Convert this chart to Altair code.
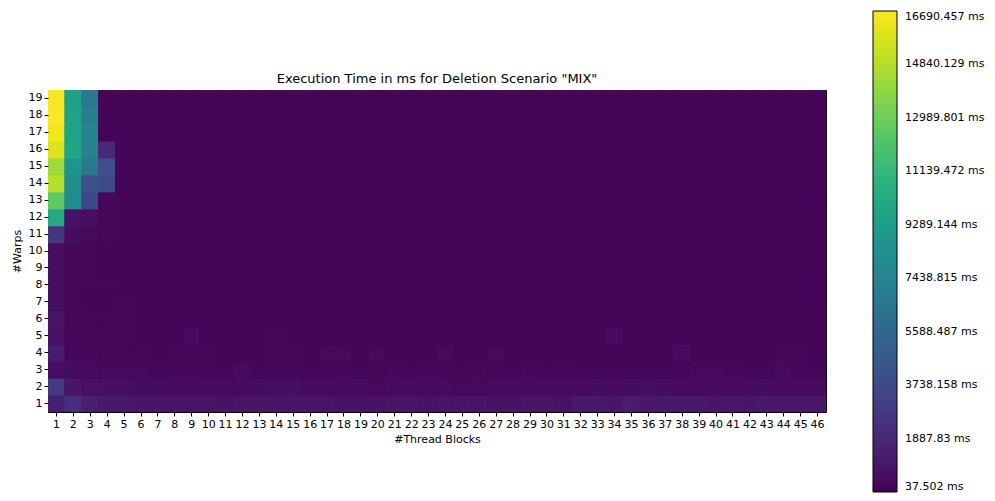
import altair as alt
import pandas as pd

thread_blocks = list(range(1, 47))
warps = list(range(1, 20))

# Execution time (ms) per warp count, one list per row, columns = thread blocks 1..46
w19 = [16550, 9500, 6600, 250, 200, 200, 200, 200, 200, 200, 200, 200, 200, 200, 200, 200, 200, 200, 200, 200, 200, 200, 200, 200, 200, 200, 200, 200, 200, 200, 200, 200, 200, 200, 200, 200, 200, 200, 200, 200, 200, 200, 200, 200, 200, 200]
w18 = [16690, 9600, 7000, 250, 200, 200, 200, 200, 200, 200, 200, 200, 200, 200, 200, 200, 200, 200, 200, 200, 200, 200, 200, 200, 200, 200, 200, 200, 200, 200, 200, 200, 200, 200, 200, 200, 200, 200, 200, 200, 200, 200, 200, 200, 200, 200]
w17 = [16300, 9700, 7600, 250, 200, 200, 200, 200, 200, 200, 200, 200, 200, 200, 200, 200, 200, 200, 200, 200, 200, 200, 200, 200, 200, 200, 200, 200, 200, 200, 200, 200, 200, 200, 200, 200, 200, 200, 200, 200, 200, 200, 200, 200, 200, 200]
w16 = [15800, 9900, 7400, 1900, 200, 200, 200, 200, 200, 200, 200, 200, 200, 200, 200, 200, 200, 200, 200, 200, 200, 200, 200, 200, 200, 200, 200, 200, 200, 200, 200, 200, 200, 200, 200, 200, 200, 200, 200, 200, 200, 200, 200, 200, 200, 200]
w15 = [14300, 8700, 6700, 3900, 200, 200, 200, 200, 200, 200, 200, 200, 200, 200, 200, 200, 200, 200, 200, 200, 200, 200, 200, 200, 200, 200, 200, 200, 200, 200, 200, 200, 200, 200, 200, 200, 200, 200, 200, 200, 200, 200, 200, 200, 200, 200]
w14 = [14900, 8100, 4100, 3700, 200, 200, 200, 200, 200, 200, 200, 200, 200, 200, 200, 200, 200, 200, 200, 200, 200, 200, 200, 200, 200, 200, 200, 200, 200, 200, 200, 200, 200, 200, 200, 200, 200, 200, 200, 200, 200, 200, 200, 200, 200, 200]
w13 = [12600, 8000, 3600, 300, 200, 200, 200, 200, 200, 200, 200, 200, 200, 200, 200, 200, 200, 200, 200, 200, 200, 200, 200, 200, 200, 200, 200, 200, 200, 200, 200, 200, 200, 200, 200, 200, 200, 200, 200, 200, 200, 200, 200, 200, 200, 200]
w12 = [10100, 800, 600, 300, 200, 200, 200, 200, 200, 200, 200, 200, 200, 200, 200, 200, 200, 200, 200, 200, 200, 200, 200, 200, 200, 200, 200, 200, 200, 200, 200, 200, 200, 200, 200, 200, 200, 200, 200, 200, 200, 200, 200, 200, 200, 200]
w11 = [2600, 500, 400, 300, 200, 200, 200, 200, 200, 200, 200, 200, 200, 200, 200, 200, 200, 200, 200, 200, 200, 200, 200, 200, 200, 200, 200, 200, 200, 200, 200, 200, 200, 200, 200, 200, 200, 200, 200, 200, 200, 200, 200, 200, 200, 200]
w10 = [600, 350, 300, 250, 200, 200, 200, 200, 200, 200, 200, 200, 200, 200, 200, 200, 200, 200, 200, 200, 200, 200, 200, 200, 200, 200, 200, 200, 200, 200, 200, 200, 200, 200, 200, 200, 200, 200, 200, 200, 200, 200, 200, 200, 200, 200]
w9 = [650, 350, 300, 250, 200, 200, 200, 200, 200, 200, 200, 200, 200, 200, 200, 200, 200, 200, 200, 200, 200, 200, 200, 200, 200, 200, 200, 200, 200, 200, 200, 200, 200, 200, 200, 200, 200, 200, 200, 200, 200, 200, 200, 200, 200, 200]
w8 = [600, 350, 300, 300, 250, 200, 200, 200, 200, 200, 200, 200, 200, 200, 200, 200, 200, 200, 200, 200, 200, 200, 200, 200, 200, 200, 200, 200, 200, 200, 200, 200, 200, 200, 200, 200, 200, 200, 200, 200, 200, 200, 200, 200, 200, 200]
w7 = [650, 350, 250, 250, 350, 200, 200, 200, 200, 200, 200, 200, 200, 200, 200, 200, 200, 200, 200, 200, 200, 200, 200, 200, 200, 200, 200, 200, 200, 200, 200, 200, 200, 200, 200, 200, 200, 200, 200, 200, 200, 200, 200, 200, 200, 200]
w6 = [900, 350, 300, 300, 300, 200, 200, 200, 200, 200, 200, 200, 200, 200, 200, 200, 200, 200, 200, 200, 200, 200, 200, 200, 200, 200, 200, 200, 200, 200, 200, 200, 200, 200, 200, 200, 200, 200, 200, 200, 200, 200, 200, 200, 200, 200]
w5 = [750, 300, 300, 300, 300, 250, 250, 250, 450, 250, 250, 250, 250, 300, 250, 250, 250, 250, 250, 250, 250, 250, 250, 250, 250, 250, 250, 250, 250, 250, 250, 250, 250, 450, 250, 250, 250, 250, 250, 250, 250, 250, 250, 250, 250, 250]
w4 = [1200, 350, 350, 300, 300, 300, 250, 300, 300, 300, 250, 250, 250, 350, 300, 250, 400, 400, 250, 400, 250, 250, 250, 400, 250, 250, 400, 250, 250, 250, 250, 250, 250, 250, 250, 250, 250, 450, 250, 250, 250, 250, 250, 350, 350, 250]
w3 = [600, 500, 450, 400, 400, 400, 350, 350, 350, 300, 300, 450, 300, 300, 350, 300, 300, 350, 300, 300, 350, 300, 350, 300, 300, 350, 300, 300, 350, 300, 300, 300, 300, 300, 300, 300, 300, 300, 400, 400, 350, 300, 300, 400, 300, 300]
w2 = [2800, 900, 700, 600, 600, 500, 500, 450, 450, 450, 450, 450, 500, 550, 650, 450, 450, 450, 500, 400, 450, 450, 450, 450, 400, 400, 450, 450, 450, 450, 450, 450, 500, 450, 500, 600, 500, 450, 450, 450, 450, 450, 500, 450, 450, 450]
w1 = [1450, 2200, 1350, 1100, 1050, 950, 950, 900, 850, 850, 800, 850, 900, 850, 950, 900, 850, 800, 800, 800, 850, 850, 800, 850, 900, 850, 800, 750, 850, 850, 800, 1100, 1050, 950, 1250, 1000, 1050, 1100, 1050, 900, 1000, 950, 1100, 1000, 1000, 1000]

rows = [w1, w2, w3, w4, w5, w6, w7, w8, w9, w10, w11, w12, w13, w14, w15, w16, w17, w18, w19]

colorbar_ticks = [37.502, 1887.83, 3738.158, 5588.487, 7438.815, 9289.144,
                  11139.472, 12989.801, 14840.129, 16690.457]

records = []
for w, row in zip(warps, rows):
    for tb, v in zip(thread_blocks, row):
        records.append({"tb": tb, "warps": w, "ms": v})
df = pd.DataFrame(records)

FONT = "DejaVu Sans"
cscale = alt.Scale(scheme="viridis", domain=[37.502, 16690.457])

chart = alt.Chart(df).mark_rect(
    width=alt.RelativeBandSize(1.08), height=alt.RelativeBandSize(1.08), clip=True
).encode(
    x=alt.X("tb:O", sort=thread_blocks, title="#Thread Blocks",
            scale=alt.Scale(paddingInner=0, paddingOuter=0),
            axis=alt.Axis(labelAngle=0, tickSize=4, tickColor="black", labelColor="black",
                          labelFontSize=11, titleFontSize=11, titleFontWeight="normal",
                          titleColor="black", domain=False, labelPadding=2, titlePadding=4,
                          grid=False)),
    y=alt.Y("warps:O", sort="descending", title="#Warps",
            scale=alt.Scale(paddingInner=0, paddingOuter=0),
            axis=alt.Axis(tickSize=4, tickColor="black", labelColor="black",
                          labelFontSize=11, titleFontSize=11, titleFontWeight="normal",
                          titleColor="black", domain=False, labelPadding=2, titlePadding=6,
                          grid=False)),
    color=alt.Color("ms:Q", scale=cscale,
                    legend=alt.Legend(title=None, orient="none", legendX=825, legendY=-79,
                                      direction="vertical", gradientLength=481,
                                      gradientThickness=24, gradientStrokeColor="black",
                                      gradientStrokeWidth=1, values=colorbar_ticks,
                                      labelExpr="datum.value + ' ms'", labelFontSize=11,
                                      labelColor="black", labelOffset=8,
                                      labelBaseline="middle", labelOverlap=False)),
).properties(
    width=778, height=322,
    title=alt.TitleParams('Execution Time in ms for Deletion Scenario "MIX"',
                          fontSize=13, fontWeight="normal", color="black", offset=-75),
    autosize=alt.AutoSizeParams(type="none"),
    padding={"left": 48, "top": 90, "right": 169, "bottom": 89},
).configure(font=FONT).configure_view(stroke="black", strokeWidth=1)

chart.save("out.html", embed_options={"renderer": "svg", "actions": False})
